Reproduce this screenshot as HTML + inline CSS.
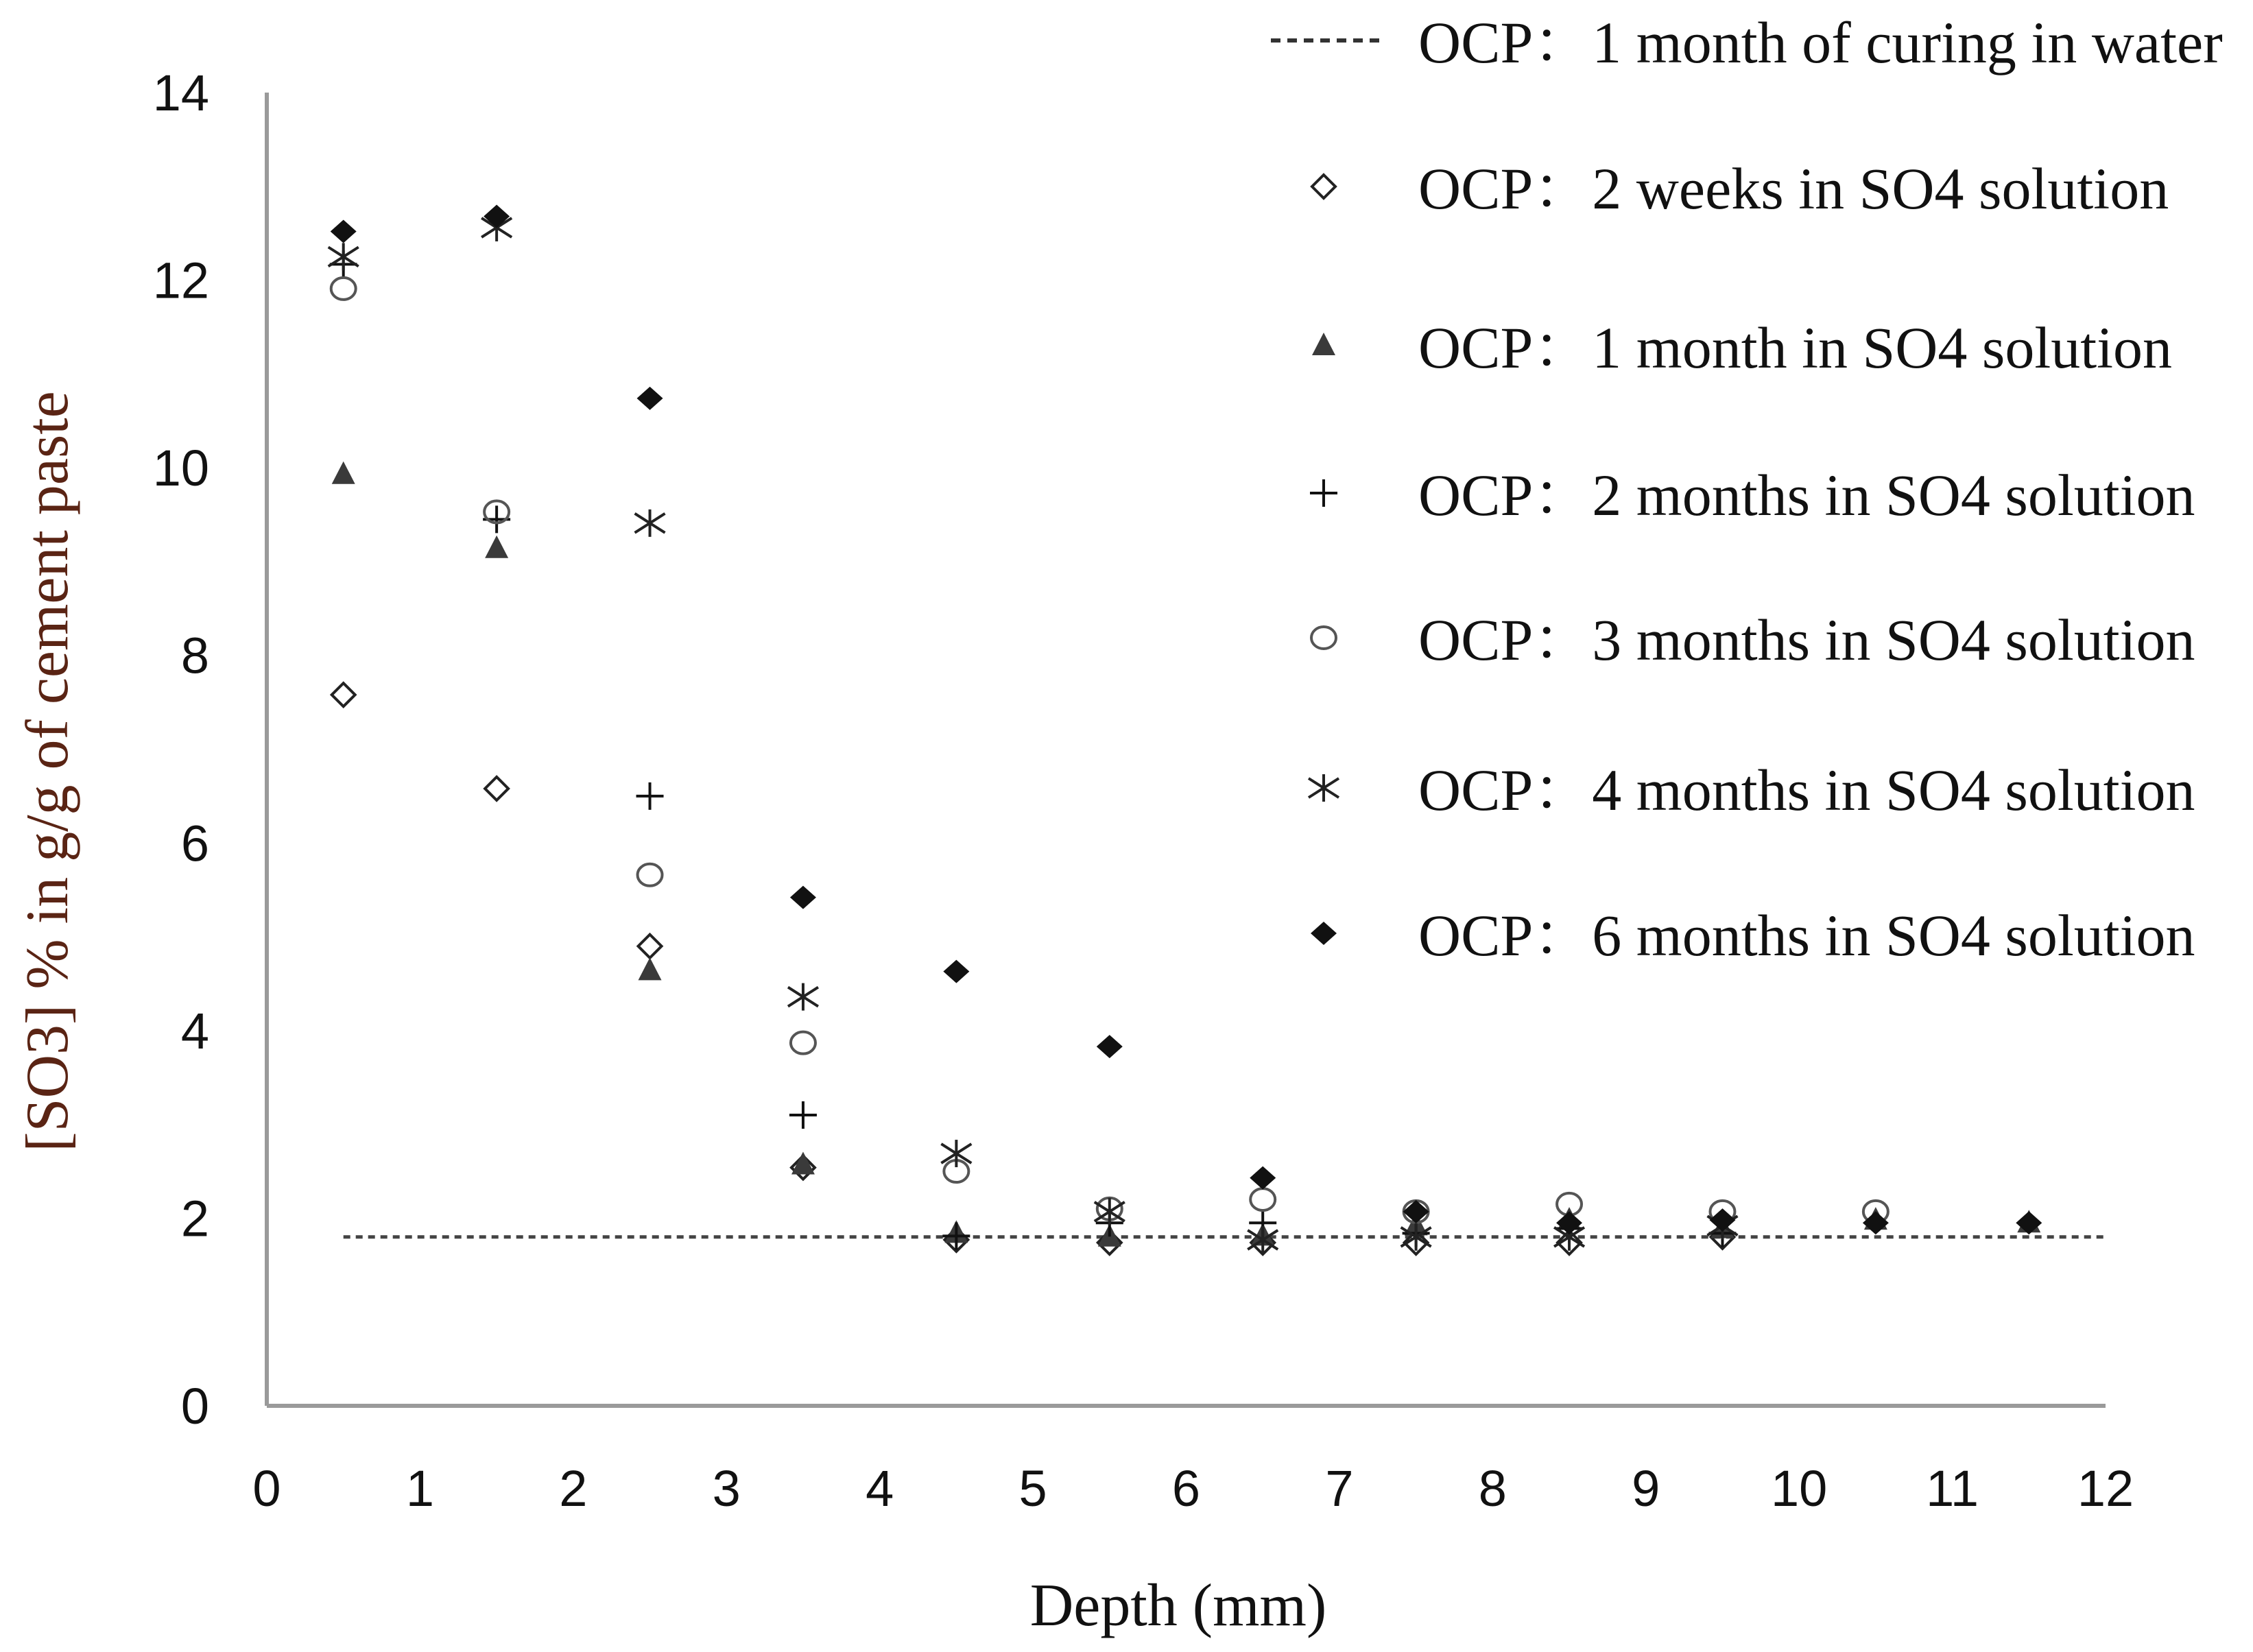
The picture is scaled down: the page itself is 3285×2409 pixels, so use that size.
<!DOCTYPE html>
<html><head><meta charset="utf-8"><style>
html,body{margin:0;padding:0;background:#fff;}
svg{display:block;}
.tick{font-family:"Liberation Sans",sans-serif;font-size:74px;fill:#111;}
.leg{font-family:"Liberation Serif","Noto Serif CJK SC",serif;font-size:86px;fill:#111;}
.ttl{font-family:"Liberation Serif",serif;font-size:88px;fill:#111;}
</style></head><body>
<svg id="chart" width="3285" height="2409" viewBox="0 0 3285 2409" xmlns="http://www.w3.org/2000/svg">
<g id="axes"></g>
<g id="marks"></g>
<g id="legend"></g>
</svg>
<script>
const depths = [0.5,1.5,2.5,3.5,4.5,5.5,6.5,7.5,8.5,9.5,10.5,11.5];
const xTicks = [0,1,2,3,4,5,6,7,8,9,10,11,12];
const yTicks = [0,2,4,6,8,10,12,14];
const waterLevel = 1.8;
const s2w = [7.58,6.58,4.9,2.54,1.77,1.74,1.74,1.74,1.74,1.8,null,null];
const s1m = [9.93,9.14,4.64,2.57,1.84,1.8,1.81,1.92,1.98,1.89,1.98,1.95];
const s2m = [12.17,9.45,6.5,3.1,1.81,1.95,1.95,1.84,1.89,1.84,null,null];
const s3m = [11.91,9.53,5.66,3.87,2.5,2.1,2.2,2.07,2.15,2.07,2.07,null];
const s4m = [12.25,12.56,9.41,4.36,2.69,2.07,1.77,1.8,1.8,1.92,null,null];
const s6m = [12.52,12.68,10.74,5.42,4.63,3.83,2.43,2.07,1.95,1.98,1.95,1.95];
const legendLabels = ["OCP：1 month of curing in water","OCP：2 weeks in SO4 solution","OCP：1 month in SO4 solution","OCP：2 months in SO4 solution","OCP：3 months in SO4 solution","OCP：4 months in SO4 solution","OCP：6 months in SO4 solution"];

const NS="http://www.w3.org/2000/svg";
const X0=389, X1=3070, Y0=2050, Y1=135;
function xs(v){return X0+(v-0)/(12-0)*(X1-X0);}
function ys(v){return Y0-(v-0)/(14-0)*(Y0-Y1);}
function mk(tag,attrs,parent){const e=document.createElementNS(NS,tag);for(const k in attrs)e.setAttribute(k,attrs[k]);parent.appendChild(e);return e;}
const axes=document.getElementById('axes'),marks=document.getElementById('marks'),legend=document.getElementById('legend');

let a=mk('line',{x1:X0,y1:Y1,x2:X0,y2:Y0,stroke:'#9a9a9a','stroke-width':6},axes);


a=mk('line',{x1:X0,y1:Y0,x2:X1,y2:Y0,stroke:'#9a9a9a','stroke-width':6},axes);


xTicks.forEach(t=>{const e=mk('text',{x:xs(t),y:2196,'text-anchor':'middle',class:'tick'},axes);e.textContent=t;

});
yTicks.forEach(t=>{const e=mk('text',{x:305,y:ys(t)+26,'text-anchor':'end',class:'tick'},axes);e.textContent=t;

});
let e=mk('text',{x:1718,y:2370,'text-anchor':'middle',class:'ttl'},axes);e.textContent='Depth (mm)';


e=mk('text',{x:0,y:0,'text-anchor':'middle',class:'ttl',transform:'translate(98,1125) rotate(-90)',style:'fill:#5a2414'},axes);e.textContent='[SO3] % in g/g of cement paste';



function marker(type,cx,cy,p){
  const g=mk('g',{},p);
  if(type==='diamondOpen') mk('polygon',{points:`${cx},${cy-17} ${cx+17},${cy} ${cx},${cy+17} ${cx-17},${cy}`,fill:'#fff','fill-opacity':0,stroke:'#222','stroke-width':4},g);
  if(type==='tri') mk('polygon',{points:`${cx},${cy-19} ${cx+17},${cy+14} ${cx-17},${cy+14}`,fill:'#3a3a3a'},g);
  if(type==='plus'){mk('line',{x1:cx-20,y1:cy,x2:cx+20,y2:cy,stroke:'#111','stroke-width':4},g);mk('line',{x1:cx,y1:cy-20,x2:cx,y2:cy+20,stroke:'#111','stroke-width':4},g);}
  if(type==='circle') mk('ellipse',{cx:cx,cy:cy,rx:18,ry:16,fill:'none',stroke:'#555','stroke-width':4},g);
  if(type==='star'){mk('line',{x1:cx-22,y1:cy-14,x2:cx+22,y2:cy+14,stroke:'#222','stroke-width':4},g);mk('line',{x1:cx-22,y1:cy+14,x2:cx+22,y2:cy-14,stroke:'#222','stroke-width':4},g);mk('line',{x1:cx,y1:cy-20,x2:cx,y2:cy+20,stroke:'#222','stroke-width':4},g);}
  if(type==='diamond') mk('polygon',{points:`${cx},${cy-17} ${cx+19},${cy} ${cx},${cy+17} ${cx-19},${cy}`,fill:'#111'},g);
  return g;
}
let wl=mk('line',{x1:xs(0.5),y1:ys(waterLevel),x2:xs(12),y2:ys(waterLevel),stroke:'#444','stroke-width':5,'stroke-dasharray':'10 8'},marks);


const series=[['diamondOpen',s2w,'series-2-weeks'],['tri',s1m,'series-1-month'],['plus',s2m,'series-2-months'],['circle',s3m,'series-3-months'],['star',s4m,'series-4-months'],['diamond',s6m,'series-6-months']];
series.forEach(([type,vals,name])=>{
  const g=mk('g',{},marks);
  
  
  vals.forEach((v,i)=>{if(v==null)return;const m=marker(type,xs(depths[i]),ys(v),g);
    
    });
});
const legY=[63,276,508,723,934,1153,1365];
legendLabels.forEach((lab,i)=>{
  const g=mk('g',{},legend);
  
  
  const cy=legY[i]-4;
  if(i===0) mk('line',{x1:1853,y1:cy,x2:2012,y2:cy,stroke:'#333','stroke-width':6,'stroke-dasharray':'14 10'},g);
  else marker(series[i-1][0],1930,cy,g);
  const t=mk('text',{x:2068,y:legY[i]+28,class:'leg'},g);t.textContent=lab;
});
</script>
</body></html>
